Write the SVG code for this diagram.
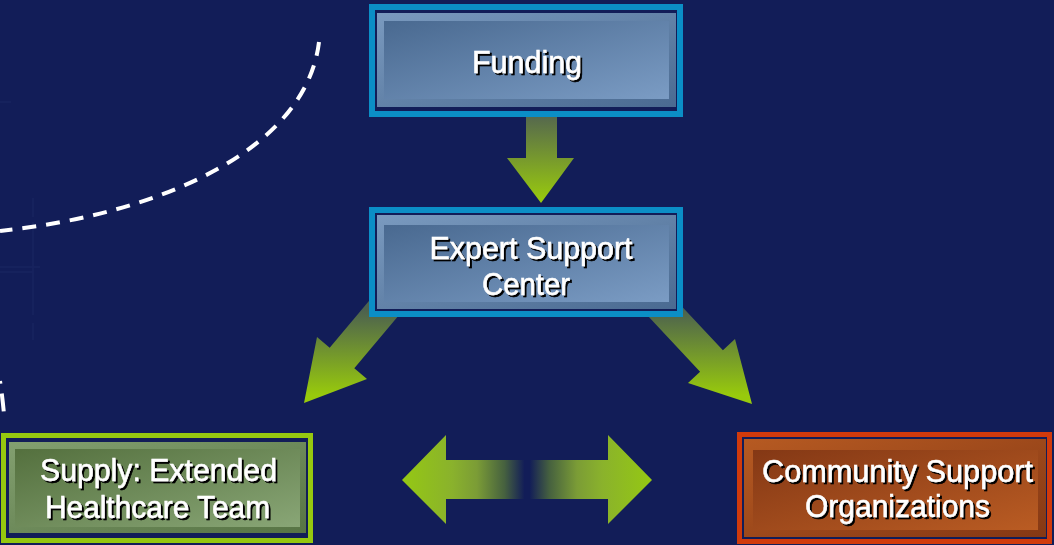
<svg xmlns="http://www.w3.org/2000/svg" width="1054" height="545" viewBox="0 0 1054 545">
  <defs>
    <style>
      .lbl { font-family: "Liberation Sans", Arial, sans-serif; font-size: 32px; fill: #ffffff; stroke: #ffffff; stroke-width: 0.5; text-anchor: middle; filter: url(#shadow); }
      .gap { fill: #121d58; }
      .faint { fill: none; stroke: #18245f; stroke-width: 1.5; }
    </style>
    <filter id="shadow" x="-10%" y="-20%" width="120%" height="150%">
      <feDropShadow dx="2" dy="2" stdDeviation="0.4" flood-color="#000000" flood-opacity="1"/>
    </filter>
    <!-- blue panels -->
    <linearGradient id="blueFrame" x1="0" y1="0" x2="1" y2="1">
      <stop offset="0" stop-color="#7a9abf"/>
      <stop offset="1" stop-color="#4a6a91"/>
    </linearGradient>
    <linearGradient id="blueFace" x1="0" y1="0" x2="1" y2="1">
      <stop offset="0" stop-color="#496990"/>
      <stop offset="1" stop-color="#7b9cc4"/>
    </linearGradient>
    <!-- green panel -->
    <linearGradient id="greenFrame" x1="0" y1="0" x2="1" y2="1">
      <stop offset="0" stop-color="#83a070"/>
      <stop offset="1" stop-color="#577444"/>
    </linearGradient>
    <linearGradient id="greenFace" x1="0" y1="0" x2="1" y2="1">
      <stop offset="0" stop-color="#54703e"/>
      <stop offset="1" stop-color="#89a676"/>
    </linearGradient>
    <!-- orange panel -->
    <linearGradient id="orangeFrame" x1="0" y1="0" x2="1" y2="1">
      <stop offset="0" stop-color="#b65a22"/>
      <stop offset="1" stop-color="#853814"/>
    </linearGradient>
    <linearGradient id="orangeFace" x1="0" y1="0" x2="1" y2="1">
      <stop offset="0" stop-color="#843815"/>
      <stop offset="1" stop-color="#ba5c23"/>
    </linearGradient>
    <!-- arrow fills -->
    <linearGradient id="downFill" gradientUnits="userSpaceOnUse" x1="0" y1="117" x2="0" y2="200">
      <stop offset="0" stop-color="#56694d"/>
      <stop offset="1" stop-color="#98c90e"/>
    </linearGradient>
    <linearGradient id="diagFill" gradientUnits="userSpaceOnUse" x1="0" y1="310" x2="0" y2="395">
      <stop offset="0" stop-color="#4c614f"/>
      <stop offset="1" stop-color="#98ca0c"/>
    </linearGradient>
    <linearGradient id="sideFill" gradientUnits="userSpaceOnUse" x1="402" y1="0" x2="652" y2="0">
      <stop offset="0" stop-color="#95c813"/>
      <stop offset="0.2" stop-color="#8ab22c"/>
      <stop offset="0.3" stop-color="#7b9c36"/>
      <stop offset="0.41" stop-color="#46613f"/>
      <stop offset="0.49" stop-color="#121d58"/>
      <stop offset="0.51" stop-color="#121d58"/>
      <stop offset="0.59" stop-color="#46613f"/>
      <stop offset="0.7" stop-color="#7b9c36"/>
      <stop offset="0.8" stop-color="#8ab22c"/>
      <stop offset="1" stop-color="#95c813"/>
    </linearGradient>
  </defs>

  <!-- backdrop -->
  <rect width="1054" height="545" fill="#121d58"/>

  <!-- faint guide marks on the left edge -->
  <g id="guides">
    <path class="faint" d="M33,198 V217 M33,222 V315 M33,323 V340 M0,267 H40 M0,272 H33 M0,102 H11"/>
  </g>

  <!-- dashed boundary -->
  <g id="boundary" fill="none" stroke="#ffffff" stroke-width="4" stroke-dasharray="14 10">
    <path d="M319,42 C306,150 160,214 0,231"/>
    <path d="M0,381 Q3,400 5,426" stroke-dasharray="3 10 18 30"/>
  </g>

  <!-- connectors -->
  <g id="connectors">
    <polygon fill="url(#downFill)" points="526,110 526,158 507,158 541,203 574,158 557,158 557,110"/>
    <polygon fill="url(#diagFill)" points="413.3,248.1 329.7,347.7 317,337 304,403 367,379 354.3,368.3 437.9,268.7"/>
    <polygon fill="url(#diagFill)" points="634.1,255.4 722.9,350.3 735,339 752,404 688,383 700.1,371.7 611.3,276.8"/>
    <polygon fill="url(#sideFill)" points="402,480 446,435 446,460 608,460 608,435 652,480 608,524 608,499 446,499 446,524"/>
  </g>

  <!-- Funding -->
  <g id="funding">
    <rect class="gap" x="372" y="7" width="308" height="107" stroke="#0b8ec6" stroke-width="6"/>
    <rect x="377" y="13" width="299" height="94" fill="url(#blueFrame)"/>
    <rect x="384" y="21" width="285" height="78" fill="url(#blueFace)"/>
    <text class="lbl" x="527" y="73" textLength="110" lengthAdjust="spacingAndGlyphs">Funding</text>
  </g>

  <!-- Expert Support Center -->
  <g id="expert-support-center">
    <rect class="gap" x="372" y="210" width="308" height="104" stroke="#0b8ec6" stroke-width="6"/>
    <rect x="377" y="215" width="299" height="94" fill="url(#blueFrame)"/>
    <rect x="384" y="225" width="285" height="77" fill="url(#blueFace)"/>
    <text class="lbl" x="531" y="259" textLength="203" lengthAdjust="spacingAndGlyphs">Expert Support</text>
    <text class="lbl" x="526" y="295" textLength="88" lengthAdjust="spacingAndGlyphs">Center</text>
  </g>

  <!-- Supply: Extended Healthcare Team -->
  <g id="supply">
    <rect class="gap" x="3.5" y="435.5" width="307" height="105" stroke="#96c80f" stroke-width="5"/>
    <rect x="9" y="442" width="297" height="91" fill="url(#greenFrame)"/>
    <rect x="15" y="449" width="285" height="78" fill="url(#greenFace)"/>
    <text class="lbl" x="158.5" y="481" textLength="237" lengthAdjust="spacingAndGlyphs">Supply: Extended</text>
    <text class="lbl" x="157.5" y="518" textLength="225" lengthAdjust="spacingAndGlyphs">Healthcare Team</text>
  </g>

  <!-- Community Support Organizations -->
  <g id="community">
    <rect class="gap" x="739.5" y="434.5" width="310" height="107" stroke="#d13a0c" stroke-width="5"/>
    <rect x="744" y="439" width="302" height="98" fill="url(#orangeFrame)"/>
    <rect x="753" y="450" width="285" height="80" fill="url(#orangeFace)"/>
    <text class="lbl" x="897.5" y="482" textLength="271" lengthAdjust="spacingAndGlyphs">Community Support</text>
    <text class="lbl" x="897.5" y="517" textLength="185" lengthAdjust="spacingAndGlyphs">Organizations</text>
  </g>
</svg>
